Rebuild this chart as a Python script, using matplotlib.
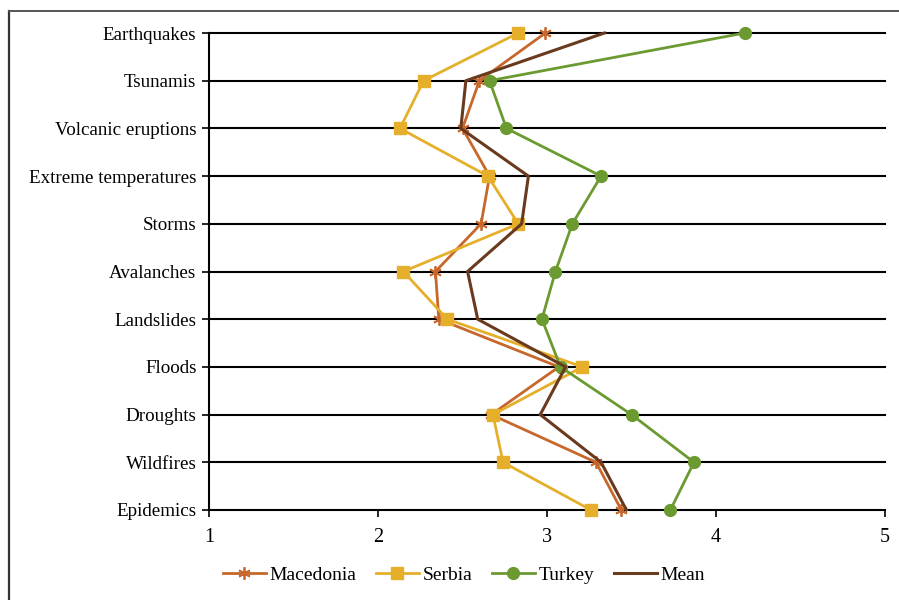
import matplotlib
matplotlib.use("Agg")
import matplotlib.pyplot as plt
from matplotlib.lines import Line2D

categories = ["Earthquakes", "Tsunamis", "Volcanic eruptions", "Extreme temperatures",
              "Storms", "Avalanches", "Landslides", "Floods", "Droughts", "Wildfires", "Epidemics"]
macedonia = [2.99, 2.60, 2.50, 2.66, 2.61, 2.34, 2.36, 3.07, 2.67, 3.29, 3.44]
serbia    = [2.83, 2.27, 2.13, 2.65, 2.83, 2.15, 2.41, 3.21, 2.68, 2.74, 3.26]
turkey    = [4.17, 2.66, 2.76, 3.32, 3.15, 3.05, 2.97, 3.08, 3.50, 3.87, 3.73]
mean      = [3.34, 2.52, 2.49, 2.89, 2.85, 2.53, 2.59, 3.11, 2.96, 3.32, 3.47]
x_ticks = [1, 2, 3, 4, 5]

plt.rcParams['font.family'] = ['Liberation Serif', 'DejaVu Serif']

fig = plt.figure(figsize=(8.99, 6.0), dpi=100)
W, H = 899, 600
ax = fig.add_axes([209 / W, 1 - 510 / H, (885 - 209) / W, (510 - 33) / H])

ypos = list(range(len(categories)))
for yv in ypos:
    ax.axhline(yv, color='black', lw=1.5, zorder=1, clip_on=False)

ast = (6, 2, 0)
ax.plot(macedonia, ypos, color='#C8672B', lw=2.0, marker=ast, ms=9, mew=1.3, zorder=3, clip_on=False)
ax.plot(serbia, ypos, color='#E5AF2C', lw=2.0, marker='s', ms=9, zorder=3, clip_on=False)
ax.plot(turkey, ypos, color='#6B9A31', lw=2.0, marker='o', ms=8.5, zorder=3, clip_on=False)
ax.plot(mean, ypos, color='#6A3A1F', lw=2.2, zorder=3, clip_on=False)

ax.set_xlim(1, 5)
ax.set_ylim(len(categories) - 1, 0)
ax.set_xticks(x_ticks)
ax.set_xticklabels([str(t) for t in x_ticks])
ax.set_yticks(ypos)
ax.set_yticklabels(categories)
for s in ['top', 'right', 'bottom']:
    ax.spines[s].set_visible(False)
ax.spines['left'].set_color('black')
ax.spines['left'].set_linewidth(1.5)
ax.tick_params(axis='y', labelsize=13.7, direction='out', length=5, width=1.2, color='black', pad=4)
ax.tick_params(axis='x', labelsize=14.5, direction='out', length=5, width=1.2, color='black', pad=8)
ax.set_facecolor('white')

handles = [
    Line2D([], [], color='#C8672B', lw=2.0, marker=ast, ms=9, mew=1.3),
    Line2D([], [], color='#E5AF2C', lw=2.0, marker='s', ms=9),
    Line2D([], [], color='#6B9A31', lw=2.0, marker='o', ms=8.5),
    Line2D([], [], color='#6A3A1F', lw=2.2),
]
fig.legend(handles, ['Macedonia', 'Serbia', 'Turkey', 'Mean'], loc='center',
           bbox_to_anchor=(464 / W, 1 - 575 / H), ncol=4, frameon=False,
           fontsize=14, handlelength=2.2, handletextpad=0.2, columnspacing=1.0)

# outer frame (left and top edges visible)
fig.add_artist(Line2D([9 / W, 9 / W], [0, 1 - 11 / H], transform=fig.transFigure, color='#333333', lw=1.6))
fig.add_artist(Line2D([9 / W, 1], [1 - 11 / H, 1 - 11 / H], transform=fig.transFigure, color='#555555', lw=1.4))

fig.savefig('out.png', dpi=100, facecolor='white')
